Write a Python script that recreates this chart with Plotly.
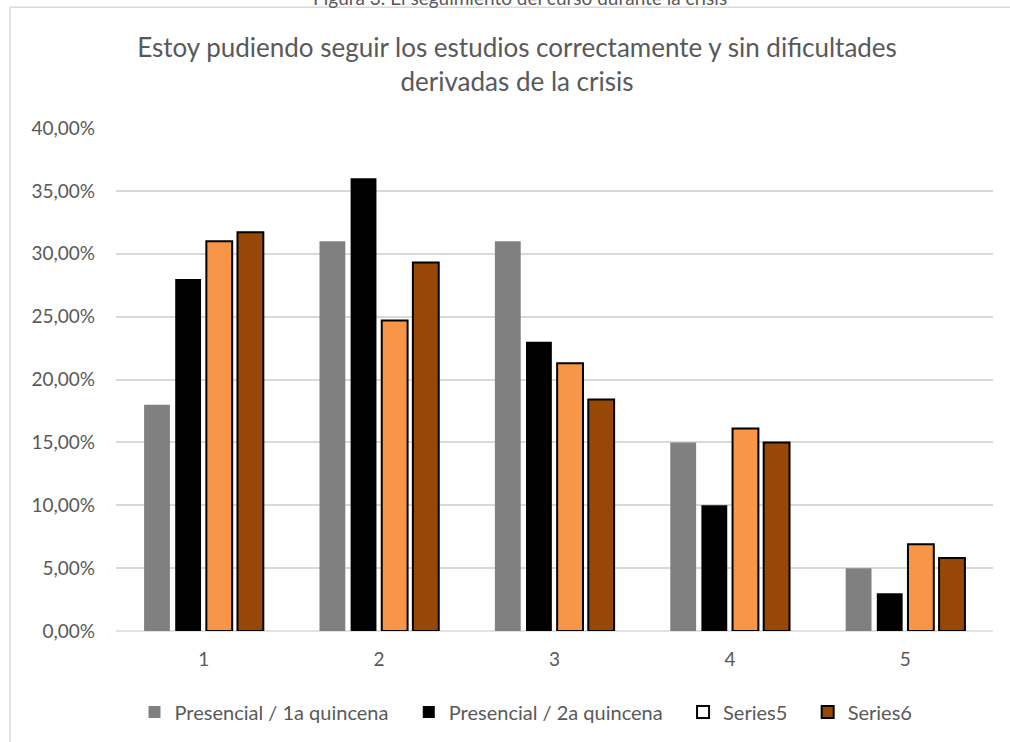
import plotly.graph_objects as go

categories = ["1", "2", "3", "4", "5"]
presencial_1a = [0.18, 0.31, 0.31, 0.15, 0.05]
presencial_2a = [0.28, 0.36, 0.23, 0.10, 0.03]
series5 = [0.31, 0.247, 0.213, 0.161, 0.069]
series6 = [0.317, 0.293, 0.184, 0.150, 0.058]
y_ticks = [0, 0.05, 0.10, 0.15, 0.20, 0.25, 0.30, 0.35, 0.40]

W, H = 1010, 742
L, R, T, B = 116, 993, 128, 632
pw, ph = R - L, B - T

def px(x):
    return (x - L) / pw

def py(y):
    return (B - y) / ph

FONT = "Lato"
GREY = "#595959"
PAD = "\u00a0" * 3

fig = go.Figure()
fig.add_trace(go.Bar(x=categories, y=presencial_1a, name="Presencial / 1a quincena" + PAD,
                     marker=dict(color="#808080", line=dict(width=0))))
fig.add_trace(go.Bar(x=categories, y=presencial_2a, name="Presencial / 2a quincena" + PAD,
                     marker=dict(color="#000000", line=dict(width=0))))
fig.add_trace(go.Bar(x=categories, y=series5, name="Series5", showlegend=False,
                     marker=dict(color="#F79646", line=dict(color="#000000", width=2))))
fig.add_trace(go.Scatter(x=categories, y=[None] * len(categories), name="Series5" + PAD,
                         mode="markers",
                         marker=dict(symbol="square", size=12, color="#ffffff",
                                     line=dict(color="#000000", width=2))))
fig.add_trace(go.Bar(x=categories, y=series6, name="Series6",
                     marker=dict(color="#974706", line=dict(color="#000000", width=2))))

fig.update_layout(
    width=W, height=H,
    margin=dict(l=L, r=W - R, t=T, b=H - B, pad=0),
    paper_bgcolor="#ffffff", plot_bgcolor="#ffffff",
    barmode="group", bargap=0.29, bargroupgap=0.17,
    separators=",.",
    font=dict(family=FONT, color=GREY, size=19),
    title=dict(text="Estoy pudiendo seguir los estudios correctamente y sin dificultades<br>derivadas de la crisis",
               x=px(517), xref="paper", xanchor="center",
               y=1 - 57 / H, yanchor="middle",
               font=dict(family=FONT, size=26, color=GREY)),
    legend=dict(orientation="h", x=px(526), xanchor="center", y=py(712), yanchor="middle",
                font=dict(family=FONT, size=20, color=GREY), itemwidth=30,
                traceorder="normal"),
    xaxis=dict(showgrid=False, showline=False, ticks="", tickfont=dict(size=19, color=GREY),
               zeroline=False, ticklabelstandoff=15),
    yaxis=dict(range=[0, 0.4], tickvals=y_ticks, tickformat=".2%",
               showgrid=True, gridcolor="#d9d9d9", gridwidth=1.5, zeroline=False,
               showline=False, ticks="", ticklabelstandoff=20,
               tickfont=dict(size=19, color=GREY)),
    shapes=[
        dict(type="line", xref="paper", yref="paper", x0=px(L), x1=px(R), y0=0, y1=0,
             line=dict(color="#d9d9d9", width=1.5), layer="below"),
        dict(type="rect", xref="paper", yref="paper", x0=px(10), x1=px(1030),
             y0=py(760), y1=py(7), line=dict(color="#d9d9d9", width=1.5), fillcolor="rgba(0,0,0,0)"),
    ],
    annotations=[
        dict(text="Figura 3. El seguimiento del curso durante la crisis", xref="paper", yref="paper",
             x=px(520), y=py(-3), xanchor="center", yanchor="middle", showarrow=False,
             font=dict(family=FONT, size=19, color=GREY)),
    ],
)

fig.write_html("out.html")
